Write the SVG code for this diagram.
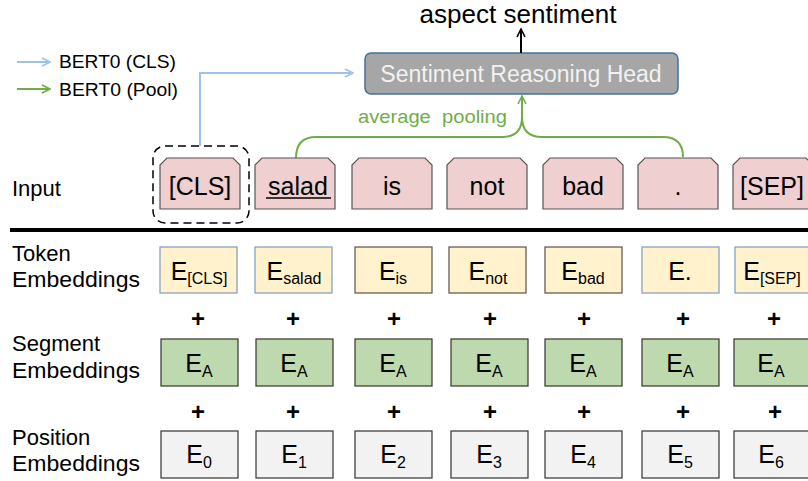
<svg xmlns="http://www.w3.org/2000/svg" width="808" height="481" viewBox="0 0 808 481">
<style>
text{font-family:"Liberation Sans",Arial,Helvetica,sans-serif;fill:#000}
.lbl{font-size:22px}
.box{font-size:25px}
.sub{font-size:16px}
.inp{fill:#EFCFCF;stroke:#555;stroke-width:1.2}
.tok{fill:#FFF2CC;stroke:#7F9CBF;stroke-width:1.2}
.tok2{fill:#FFF2CC;stroke:#5A5246;stroke-width:1.2}
.seg{fill:#BFD9AE;stroke:#333;stroke-width:1.2}
.pos{fill:#F2F2F2;stroke:#333;stroke-width:1.2}
.plus{font-size:24px;font-weight:bold}
</style>
<defs>
<marker id="ab" viewBox="0 0 10 10" refX="9" refY="5" markerWidth="10" markerHeight="10" markerUnits="userSpaceOnUse" orient="auto"><path d="M1,1 L9,5 L1,9" fill="none" stroke="#9DC3E6" stroke-width="1.6"/></marker>
<marker id="ag" viewBox="0 0 10 10" refX="9" refY="5" markerWidth="10" markerHeight="10" markerUnits="userSpaceOnUse" orient="auto"><path d="M1,1 L9,5 L1,9" fill="none" stroke="#70AD47" stroke-width="1.6"/></marker>
<marker id="ak" viewBox="0 0 10 10" refX="9" refY="5" markerWidth="10" markerHeight="10" markerUnits="userSpaceOnUse" orient="auto"><path d="M1,1 L9,5 L1,9" fill="none" stroke="#000" stroke-width="1.6"/></marker>
</defs>

<g id="legend">
<line x1="17" y1="62" x2="50" y2="62" stroke="#9DC3E6" stroke-width="2" marker-end="url(#ab)"/>
<text x="59" y="68" font-size="18" textLength="117" lengthAdjust="spacingAndGlyphs">BERT0 (CLS)</text>
<line x1="17" y1="89" x2="50" y2="89" stroke="#70AD47" stroke-width="2" marker-end="url(#ag)"/>
<text x="59" y="96" font-size="18" textLength="119" lengthAdjust="spacingAndGlyphs">BERT0 (Pool)</text>
</g>

<g id="output">
<text x="518" y="23" font-size="25" text-anchor="middle" textLength="197" lengthAdjust="spacingAndGlyphs">aspect sentiment</text>
</g>

<g id="head">
<rect x="365" y="53" width="313" height="41" rx="6" fill="#A6A6A6" stroke="#41719C" stroke-width="1.5"/>
<text x="521" y="82" font-size="23" text-anchor="middle" style="fill:#F2F2F2">Sentiment Reasoning Head</text>
</g>

<g id="connectors" fill="none">
<line x1="521" y1="53" x2="521" y2="29" stroke="#000" stroke-width="2" marker-end="url(#ak)"/>
<polyline points="200,146 200,73 353,73" stroke="#9DC3E6" stroke-width="2" marker-end="url(#ab)"/>
<path d="M296,158 Q296,137 316,137 L502,137 Q522,137 522,117 L522,96" stroke="#70AD47" stroke-width="2" marker-end="url(#ag)"/>
<path d="M522,117 Q522,137 542,137 L663,137 Q683,137 683,157" stroke="#70AD47" stroke-width="2"/>
<text x="358" y="123" font-size="18" textLength="149" lengthAdjust="spacingAndGlyphs" style="fill:#70AD47;white-space:pre" xml:space="preserve">average  pooling</text>
</g>

<g id="labels">
<text class="lbl" x="12" y="196">Input</text>
<text class="lbl" x="12" y="261">Token</text>
<text class="lbl" x="12" y="287" textLength="128" lengthAdjust="spacingAndGlyphs">Embeddings</text>
<text class="lbl" x="12" y="351">Segment</text>
<text class="lbl" x="12" y="378" textLength="128" lengthAdjust="spacingAndGlyphs">Embeddings</text>
<text class="lbl" x="12" y="445">Position</text>
<text class="lbl" x="12" y="471" textLength="128" lengthAdjust="spacingAndGlyphs">Embeddings</text>
</g>

<g id="cls-group">
<rect x="153" y="146" width="96" height="77" rx="12" fill="none" stroke="#000" stroke-width="1.5" stroke-dasharray="8,5"/>
</g>

<g id="input-cls"><path class="inp" d="M160,209 L160,165 L167,158 L233,158 L240,165 L240,209 Z"/><text class="box" x="200" y="195" text-anchor="middle">[CLS]</text></g>
<g id="input-salad"><path class="inp" d="M255,209 L255,165 L262,158 L328,158 L335,165 L335,209 Z"/><text class="box" x="298" y="195" text-anchor="middle">salad</text><line x1="266" y1="198" x2="331" y2="198" stroke="#000" stroke-width="1.5"/></g>
<g id="input-is"><path class="inp" d="M352,209 L352,165 L359,158 L425,158 L432,165 L432,209 Z"/><text class="box" x="392" y="195" text-anchor="middle">is</text></g>
<g id="input-not"><path class="inp" d="M447,209 L447,165 L454,158 L520,158 L527,165 L527,209 Z"/><text class="box" x="487" y="195" text-anchor="middle">not</text></g>
<g id="input-bad"><path class="inp" d="M543,209 L543,165 L550,158 L616,158 L623,165 L623,209 Z"/><text class="box" x="583" y="195" text-anchor="middle">bad</text></g>
<g id="input-dot"><path class="inp" d="M638,209 L638,165 L645,158 L711,158 L718,165 L718,209 Z"/><text class="box" x="678" y="195" text-anchor="middle">.</text></g>
<g id="input-sep"><path class="inp" d="M733,209 L733,165 L740,158 L806,158 L813,165 L813,209 Z"/><text class="box" x="772" y="195" text-anchor="middle">[SEP]</text></g>

<line x1="10" y1="230" x2="808" y2="230" stroke="#000" stroke-width="4"/>

<g id="tok-cls"><rect class="tok" x="160" y="247" width="77" height="46"/><text class="box" x="199" y="280" text-anchor="middle">E<tspan class="sub" dy="4">[CLS]</tspan></text></g>
<g id="tok-salad"><rect class="tok" x="255" y="247" width="77" height="46"/><text class="box" x="294" y="280" text-anchor="middle">E<tspan class="sub" dy="4">salad</tspan></text></g>
<g id="tok-is"><rect class="tok2" x="355" y="247" width="77" height="46"/><text class="box" x="393" y="280" text-anchor="middle">E<tspan class="sub" dy="4">is</tspan></text></g>
<g id="tok-not"><rect class="tok2" x="449" y="247" width="77" height="46"/><text class="box" x="488" y="280" text-anchor="middle">E<tspan class="sub" dy="4">not</tspan></text></g>
<g id="tok-bad"><rect class="tok2" x="545" y="247" width="77" height="46"/><text class="box" x="583" y="280" text-anchor="middle">E<tspan class="sub" dy="4">bad</tspan></text></g>
<g id="tok-dot"><rect class="tok" x="642" y="247" width="77" height="46"/><text class="box" x="680" y="280" text-anchor="middle">E.</text></g>
<g id="tok-sep"><rect class="tok" x="735" y="247" width="77" height="46"/><text class="box" x="772" y="280" text-anchor="middle">E<tspan class="sub" dy="4">[SEP]</tspan></text></g>

<g id="plus1">
<text class="plus" x="198" y="327" text-anchor="middle">+</text>
<text class="plus" x="293" y="327" text-anchor="middle">+</text>
<text class="plus" x="394" y="327" text-anchor="middle">+</text>
<text class="plus" x="490" y="327" text-anchor="middle">+</text>
<text class="plus" x="584" y="327" text-anchor="middle">+</text>
<text class="plus" x="683" y="327" text-anchor="middle">+</text>
<text class="plus" x="774" y="327" text-anchor="middle">+</text>
</g>

<g id="seg-0"><rect class="seg" x="161" y="339" width="77" height="47"/><text class="box" x="199" y="372" text-anchor="middle">E<tspan class="sub" dy="5">A</tspan></text></g>
<g id="seg-1"><rect class="seg" x="256" y="339" width="77" height="47"/><text class="box" x="294" y="372" text-anchor="middle">E<tspan class="sub" dy="5">A</tspan></text></g>
<g id="seg-2"><rect class="seg" x="355" y="339" width="77" height="47"/><text class="box" x="393" y="372" text-anchor="middle">E<tspan class="sub" dy="5">A</tspan></text></g>
<g id="seg-3"><rect class="seg" x="451" y="339" width="77" height="47"/><text class="box" x="489" y="372" text-anchor="middle">E<tspan class="sub" dy="5">A</tspan></text></g>
<g id="seg-4"><rect class="seg" x="545" y="339" width="77" height="47"/><text class="box" x="583" y="372" text-anchor="middle">E<tspan class="sub" dy="5">A</tspan></text></g>
<g id="seg-5"><rect class="seg" x="642" y="339" width="77" height="47"/><text class="box" x="680" y="372" text-anchor="middle">E<tspan class="sub" dy="5">A</tspan></text></g>
<g id="seg-6"><rect class="seg" x="734" y="339" width="77" height="47"/><text class="box" x="771" y="372" text-anchor="middle">E<tspan class="sub" dy="5">A</tspan></text></g>

<g id="plus2">
<text class="plus" x="198" y="420" text-anchor="middle">+</text>
<text class="plus" x="293" y="420" text-anchor="middle">+</text>
<text class="plus" x="394" y="420" text-anchor="middle">+</text>
<text class="plus" x="490" y="420" text-anchor="middle">+</text>
<text class="plus" x="584" y="420" text-anchor="middle">+</text>
<text class="plus" x="683" y="420" text-anchor="middle">+</text>
<text class="plus" x="775" y="420" text-anchor="middle">+</text>
</g>

<g id="pos-0"><rect class="pos" x="161" y="431" width="77" height="47"/><text class="box" x="199" y="463" text-anchor="middle">E<tspan class="sub" dy="5">0</tspan></text></g>
<g id="pos-1"><rect class="pos" x="256" y="431" width="77" height="47"/><text class="box" x="294" y="463" text-anchor="middle">E<tspan class="sub" dy="5">1</tspan></text></g>
<g id="pos-2"><rect class="pos" x="355" y="431" width="77" height="47"/><text class="box" x="393" y="463" text-anchor="middle">E<tspan class="sub" dy="5">2</tspan></text></g>
<g id="pos-3"><rect class="pos" x="451" y="431" width="77" height="47"/><text class="box" x="489" y="463" text-anchor="middle">E<tspan class="sub" dy="5">3</tspan></text></g>
<g id="pos-4"><rect class="pos" x="545" y="431" width="77" height="47"/><text class="box" x="583" y="463" text-anchor="middle">E<tspan class="sub" dy="5">4</tspan></text></g>
<g id="pos-5"><rect class="pos" x="642" y="431" width="77" height="47"/><text class="box" x="680" y="463" text-anchor="middle">E<tspan class="sub" dy="5">5</tspan></text></g>
<g id="pos-6"><rect class="pos" x="734" y="431" width="77" height="47"/><text class="box" x="771" y="463" text-anchor="middle">E<tspan class="sub" dy="5">6</tspan></text></g>
</svg>
